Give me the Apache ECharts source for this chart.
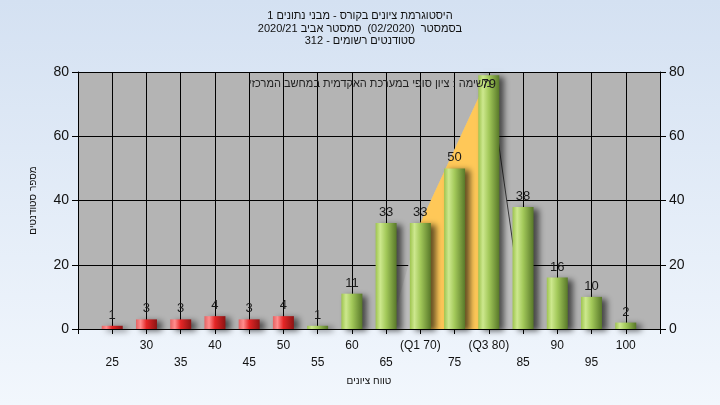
<!DOCTYPE html>
<html>
<head>
<meta charset="utf-8">
<script src="https://cdn.jsdelivr.net/npm/echarts@6/dist/echarts.min.js"></script>
<style>
html,body{margin:0;padding:0;}
#chart{width:720px;height:405px;}
</style>
</head>
<body>
<div id="chart"></div>
<script>
// ---- data ----
const scores = [25, 30, 35, 40, 45, 50, 55, 60, 65, 70, 75, 80, 85, 90, 95, 100];
const tickLabels = ['25', '30', '35', '40', '45', '50', '55', '60', '65', '(Q1 70)', '75', '(Q3 80)', '85', '90', '95', '100'];
const counts = [1, 3, 3, 4, 3, 4, 1, 11, 33, 33, 50, 79, 38, 16, 10, 2];
const passMark = 55;
// quartile shape behind bars: [score, students]
const iqrShape = [[65.6, 0], [70, 33], [80, 79], [85.3, 0]];
const titleLines = [
  'היסטוגרמת ציונים בקורס - מבני נתונים 1',
  'בסמסטר  (02/2020)  סמסטר אביב 2020/21',
  'סטודנטים רשומים - 312'
];
const noteText = 'משימה : ציון סופי במערכת האקדמית במחשב המרכזי';
const xName = 'טווח ציונים';
const yName = 'מספר סטודנטים';

// ---- chart ----
const FONT = 'Arial, "Liberation Sans", sans-serif';
const Y_MAX = 80;

function grad(stops) {
  return { type: 'linear', x: 0, y: 0, x2: 1, y2: 0, colorStops: stops.map(s => ({ offset: s[0], color: s[1] })) };
}
const greenGrad = grad([[0, '#9ec44f'], [0.22, '#cde88e'], [0.5, '#a3c95a'], [1, '#587829']]);
const redGrad = grad([[0, '#e46262'], [0.22, '#ff8d8d'], [0.5, '#e52626'], [1, '#8c1414']]);

const barData = scores.map((s, i) => {
  const item = {
    value: [s, counts[i]],
    itemStyle: { color: s < passMark ? redGrad : greenGrad }
  };
  if (Y_MAX - counts[i] < 4) item.label = { position: 'insideTop', distance: 3 };
  return item;
});

const chart = echarts.init(document.getElementById('chart'));
chart.setOption({
  animation: false,
  backgroundColor: { type: 'linear', x: 0, y: 0, x2: 0, y2: 1, colorStops: [{ offset: 0, color: '#d4e1f2' }, { offset: 1, color: '#f2f7fd' }] },
  textStyle: { fontFamily: FONT },
  title: {
    text: titleLines.join('\n'),
    left: 'center',
    top: 5,
    textStyle: { fontSize: 11, fontWeight: 'normal', color: '#111', lineHeight: 12.5, fontFamily: FONT }
  },
  graphic: [{
    type: 'text', x: 370, y: 84, z: 10,
    style: { text: noteText, textAlign: 'center', textVerticalAlign: 'middle', font: '11px ' + FONT, fill: '#222' }
  }],
  grid: { left: 78, right: 60, top: 72, bottom: 76, show: true, backgroundColor: '#b4b4b4', borderWidth: 0 },
  xAxis: {
    type: 'value', min: 20, max: 105, interval: 5,
    name: xName, nameLocation: 'middle', nameGap: 47,
    nameTextStyle: { fontSize: 10, color: '#111', fontFamily: FONT },
    axisLine: { show: true, onZero: false, lineStyle: { color: '#000', width: 1 } },
    axisTick: { show: true, length: 5, lineStyle: { color: '#000' } },
    splitLine: { show: true, lineStyle: { color: '#000', width: 1 } },
    axisLabel: {
      showMinLabel: true, showMaxLabel: true, margin: 8, fontSize: 12, lineHeight: 17, color: '#111', fontFamily: FONT,
      formatter: function (v) {
        const i = scores.indexOf(v);
        if (i < 0) return '';
        return (i % 2 === 0 ? '\n' : '') + tickLabels[i];
      }
    }
  },
  yAxis: [{
    type: 'value', min: 0, max: Y_MAX, interval: 20, position: 'left',
    name: yName, nameLocation: 'middle', nameGap: 40,
    nameTextStyle: { fontSize: 10, color: '#111', fontFamily: FONT },
    axisLine: { show: true, lineStyle: { color: '#000' } },
    axisTick: { show: true, length: 6, lineStyle: { color: '#000' } },
    splitLine: { show: true, lineStyle: { color: '#000', width: 1 } },
    axisLabel: { fontSize: 14, margin: 9, color: '#111', fontFamily: FONT }
  }, {
    type: 'value', min: 0, max: Y_MAX, interval: 20, position: 'right',
    axisLine: { show: true, lineStyle: { color: '#000' } },
    axisTick: { show: true, length: 6, lineStyle: { color: '#000' } },
    splitLine: { show: false },
    axisLabel: { fontSize: 14, margin: 9, color: '#111', fontFamily: FONT }
  }],
  series: [{
    type: 'line', data: iqrShape, symbol: 'none', silent: true, z: 1,
    lineStyle: { width: 0 }, areaStyle: { color: '#bfbfbf', opacity: 1 }
  }, {
    type: 'line', data: iqrShape.slice(1, 3), symbol: 'none', silent: true, z: 1,
    lineStyle: { width: 0 }, areaStyle: { color: '#ffc858', opacity: 1 }
  }, {
    type: 'line', data: iqrShape.slice(2), symbol: 'none', silent: true, z: 1,
    lineStyle: { width: 1, color: '#3a3a3a' }
  }, {
    type: 'bar', data: barData, barWidth: 21, z: 3,
    itemStyle: { shadowColor: 'rgba(0,0,0,0.6)', shadowBlur: 6, shadowOffsetX: 5, shadowOffsetY: 2 },
    label: { show: true, position: 'top', distance: 4, fontSize: 13, color: '#1a1a1a', fontFamily: FONT }
  }]
});
</script>
</body>
</html>
